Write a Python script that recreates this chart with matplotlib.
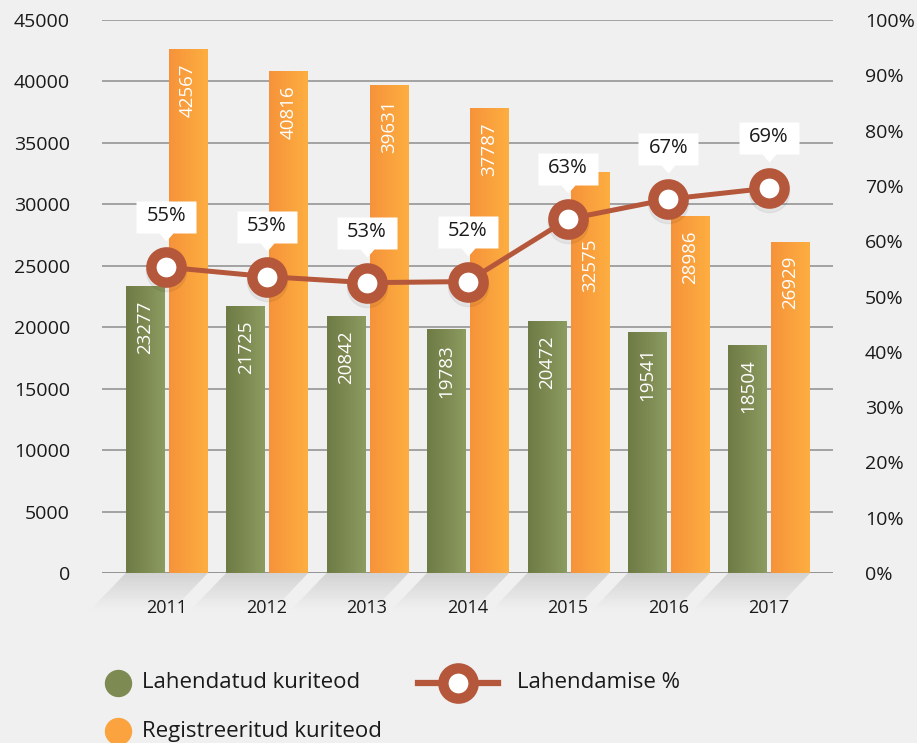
import matplotlib
matplotlib.use('Agg')
import matplotlib.pyplot as plt
import numpy as np
from matplotlib.transforms import offset_copy
from matplotlib.patches import Polygon
from matplotlib.path import Path
from matplotlib.colors import LinearSegmentedColormap, to_rgb

years = ['2011', '2012', '2013', '2014', '2015', '2016', '2017']
solved = [23277, 21725, 20842, 19783, 20472, 19541, 18504]
registered = [42567, 40816, 39631, 37787, 32575, 28986, 26929]
solve_pct = [55.3, 53.6, 52.5, 52.7, 64.0, 67.6, 69.6]
pct_labels = ['55%', '53%', '53%', '52%', '63%', '67%', '69%']
left_ticks = [0, 5000, 10000, 15000, 20000, 25000, 30000, 35000, 40000, 45000]
right_ticks = [0, 10, 20, 30, 40, 50, 60, 70, 80, 90, 100]
legend_names = ['Lahendatud kuriteod', 'Lahendamise %', 'Registreeritud kuriteod']

plt.rcParams['font.family'] = ['Open Sans', 'DejaVu Sans']
BG = '#f0f0f0'
GREEN0, GREEN1 = '#6e7b45', '#8c9b60'
ORANGE0, ORANGE1 = '#f6933a', '#fdae41'
LINE = '#b5573a'
GRID = '#9c9c9c'
TXT = '#1a1a1a'
DPI = 100

fig = plt.figure(figsize=(9.17, 7.43), dpi=DPI, facecolor=BG)
ax = fig.add_axes([102 / 917, 170 / 743, 731 / 917, 553 / 743])
ax.set_facecolor(BG)
for s in ax.spines.values():
    s.set_visible(False)

x = np.arange(len(years))
b1 = ax.bar(x - 0.207, solved, 0.388, color=GREEN0, zorder=2)
b2 = ax.bar(x + 0.217, registered, 0.379, color=ORANGE0, zorder=2)

def gradient(bars, c0, c1):
    cmap = LinearSegmentedColormap.from_list('g', [c0, c1])
    for b in bars:
        x0, w, h = b.get_x(), b.get_width(), b.get_height()
        ax.imshow(np.linspace(0, 1, 64).reshape(1, -1), cmap=cmap,
                  extent=(x0, x0 + w, 0, h), aspect='auto', zorder=2.5,
                  interpolation='bilinear')

gradient(b1, GREEN0, GREEN1)
gradient(b2, ORANGE0, ORANGE1)

ax.set_xlim(-0.64, 6.64)
ax.set_ylim(0, 45000)

for t in left_ticks:
    ax.axhline(t, color=GRID if t else '#8c8c8c', lw=1.3, zorder=1)

# floor shading
depth = 3000
skew = 0.35
n = 14
ctop = np.array(to_rgb('#d2d2d2'))
cbot = np.array(to_rgb(BG))
for xi in x:
    l, r = xi - 0.40, xi + 0.41
    for k in range(n):
        f0, f1 = k / n, (k + 1) / n
        col = ctop + (cbot - ctop) * (f0 + 0.5 / n)
        poly = Polygon([(l - skew * f0, -depth * f0), (r - skew * f0, -depth * f0),
                        (r - skew * f1, -depth * f1), (l - skew * f1, -depth * f1)],
                       closed=True, fc=col, ec=col, lw=0.3, clip_on=False, zorder=0.5)
        ax.add_patch(poly)

ax.set_yticks(left_ticks)
ax.set_yticklabels([str(t) for t in left_ticks])
ax.tick_params(axis='y', length=0, pad=23, labelsize=14, labelcolor=TXT)
ax.set_xticks(x)
ax.set_xticklabels(years)
ax.tick_params(axis='x', length=0, pad=19, labelsize=13, labelcolor=TXT)

ax2 = ax.twinx()
for s in ax2.spines.values():
    s.set_visible(False)
ax2.set_ylim(0, 100)
ax2.set_yticks(right_ticks)
ax2.set_yticklabels([f'{t}%' for t in right_ticks])
ax2.tick_params(axis='y', length=0, pad=23, labelsize=14, labelcolor=TXT)

# bar value labels (moved below the line marker if they would collide)
px_per_pt = DPI / 72.0
marker_px = {}
for xi, p in zip(x, solve_pct):
    marker_px[xi] = ax2.transData.transform((xi, p))[1]
LABEL_LEN = 56
for bars in (b1, b2):
    for xi, b in zip(x, bars):
        top_px = ax.transData.transform((0, b.get_height()))[1]
        start = top_px - 14
        my = marker_px[xi]
        if (start - LABEL_LEN) < my + 20 and start > my - 20:
            start = my - 19
        off_pt = (start - top_px) / px_per_pt
        ax.annotate(f'{int(b.get_height())}', (b.get_x() + b.get_width() / 2, b.get_height()),
                    xytext=(0, off_pt), textcoords='offset points', rotation=90,
                    ha='center', va='top', color='white', fontsize=13.5, zorder=4)

ax2.plot(x, solve_pct, 'o', ms=29, color='black', alpha=0.05, lw=0,
         transform=offset_copy(ax2.transData, fig, y=-4, units='dots'), zorder=2)
ax2.plot(x, solve_pct, color=LINE, lw=3.6, zorder=3, marker='o', ms=21.75,
         mfc='white', mec=LINE, mew=7.5)

# callout boxes: 60x32 px rectangle with a pointer below
callout = Path([(-30, -16), (-7, -16), (0, -24), (7, -16), (30, -16), (30, 16),
                (-30, 16), (-30, -16)],
               [Path.MOVETO] + [Path.LINETO] * 6 + [Path.CLOSEPOLY])
callout_ms = 60 / px_per_pt
box_trans = offset_copy(ax2.transData, fig, y=50, units='dots')
ax2.plot(x, solve_pct, lw=0, marker=callout, ms=callout_ms, mfc='white', mec='none',
         transform=box_trans, zorder=5, clip_on=False)
for xi, p, lab in zip(x, solve_pct, pct_labels):
    ax2.text(xi, p, lab, transform=offset_copy(ax2.transData, fig, y=51, units='dots'),
             ha='center', va='center', fontsize=14.5, color=TXT, zorder=6)

# legend
lax = fig.add_axes([0, 0, 1, 1])
lax.set_xlim(0, 917)
lax.set_ylim(743, 0)
lax.axis('off')
lax.plot([118], [683], 'o', ms=18.7, color='#7d8b52')
lax.text(142, 683, legend_names[0], fontsize=16, va='center', ha='left', color=TXT)
lax.plot([418, 498], [683, 683], color=LINE, lw=4.5)
lax.plot([458], [683], 'o', ms=21.75, mfc='white', mec=LINE, mew=7.5)
lax.text(517, 683, legend_names[1], fontsize=16, va='center', ha='left', color=TXT)
lax.plot([118], [731], 'o', ms=18.7, color='#fba43f')
lax.text(142, 731, legend_names[2], fontsize=16, va='center', ha='left', color=TXT)

fig.savefig('out.png', dpi=DPI, facecolor=BG)
